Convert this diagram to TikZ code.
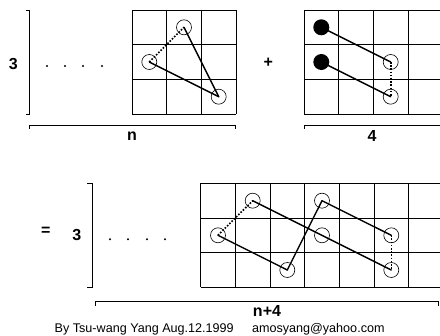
\documentclass[tikz,border=0pt]{standalone}
\usepackage{fontspec}
\setmainfont{Liberation Sans}
\tikzset{
  ring/.style={circle,draw,inner sep=0pt,minimum size=15pt,line width=0.6pt},
  spot/.style={circle,fill,inner sep=0pt,minimum size=16pt},
  link/.style={line width=1.4pt,line cap=round},
  hint/.style={line width=1.6pt,dash pattern=on 1.6pt off 1.6pt},
  big/.style={inner sep=0pt,font=\fontsize{16}{18}\selectfont\bfseries},
  small/.style={inner sep=0pt,font=\fontsize{12.6}{14}\selectfont}
}
\begin{document}
\begin{tikzpicture}[x=1pt,y=-1pt,line width=0.8pt]
\useasboundingbox (0,0) rectangle (440,336);
\foreach \i in {0,...,3} {
  \draw (132+\i*34.67,10) -- (132+\i*34.67,114);
  \draw (132,10+\i*34.67) -- (236,10+\i*34.67);
}
\foreach \i in {0,...,4} \draw (304+\i*34.67,10) -- (304+\i*34.67,114);
\foreach \i in {0,...,3} \draw (304,10+\i*34.67) -- (444,10+\i*34.67);
\foreach \i in {0,...,7} \draw (200.7+\i*34.67,183.3) -- (200.7+\i*34.67,287.3);
\foreach \i in {0,...,3} \draw (200.7,183.3+\i*34.67) -- (444,183.3+\i*34.67);
\draw (26,10) -- (29,10) -- (29,114) -- (26,114);
\draw (29,129) -- (29,125) -- (235,125) -- (235,129);
\draw (304,129) -- (304,125) -- (444,125);
\draw (87,183) -- (92,183) -- (92,287) -- (87,287);
\draw (95,306) -- (95,301.7) -- (438,301.7) -- (438,306);
\foreach \x in {47,65,83,102} \fill (\x,66) circle (1.1);
\foreach \x in {110,128,147,165} \fill (\x,239.3) circle (1.1);
\node[big,anchor=base] (rows) at (13.3,69.3) {3};
\node[big] (plus) at (268.3,63) {+};
\node[big] (eq) at (45.7,231) {=};
\node[big,anchor=base] (rowsb) at (76.7,240.7) {3};
\node[big,anchor=base] (n) at (132,141) {n};
\node[big,anchor=base] (four) at (372,142) {4};
\node[big,anchor=base] (nfour) at (267,316.7) {n+4};
\node[ring] (a1) at (184,27.3) {};
\node[ring] (a2) at (149.3,62) {};
\node[ring] (a3) at (218.7,96.7) {};
\draw[hint] (a2.center) -- (a1.center);
\draw[link] (a1.center) -- (a3.center);
\draw[link] (a2.center) -- (a3.center);
\node[spot] (b1) at (321.3,27.3) {};
\node[spot] (b2) at (321.3,62) {};
\node[ring] (b3) at (390.7,62) {};
\node[ring] (b4) at (390.7,96.7) {};
\draw[link] (b1.center) -- (b3.center);
\draw[link] (b2.center) -- (b4.center);
\draw[hint] (b3.center) -- (b4.center);
\node[ring] (c1) at (218,235.3) {};
\node[ring] (c2) at (252.7,200.7) {};
\node[ring] (c3) at (287.3,270) {};
\node[ring] (c4) at (322,200.7) {};
\node[ring] (c5) at (322,235.3) {};
\node[ring] (c6) at (391.3,235.3) {};
\node[ring] (c7) at (391.3,270) {};
\draw[hint] (c1.center) -- (c2.center);
\draw[link] (c1.center) -- (c3.center);
\draw[link] (c3.center) -- (c4.center);
\draw[link] (c2.center) -- (c7.center);
\draw[link] (c4.center) -- (c6.center);
\draw[hint] (c6.center) -- (c7.center);
\node[small,anchor=base] (by) at (144.2,333) {By Tsu-wang Yang Aug.12.1999};
\node[small,anchor=base] (mail) at (318.3,333) {amosyang@yahoo.com};
\end{tikzpicture}
\end{document}
